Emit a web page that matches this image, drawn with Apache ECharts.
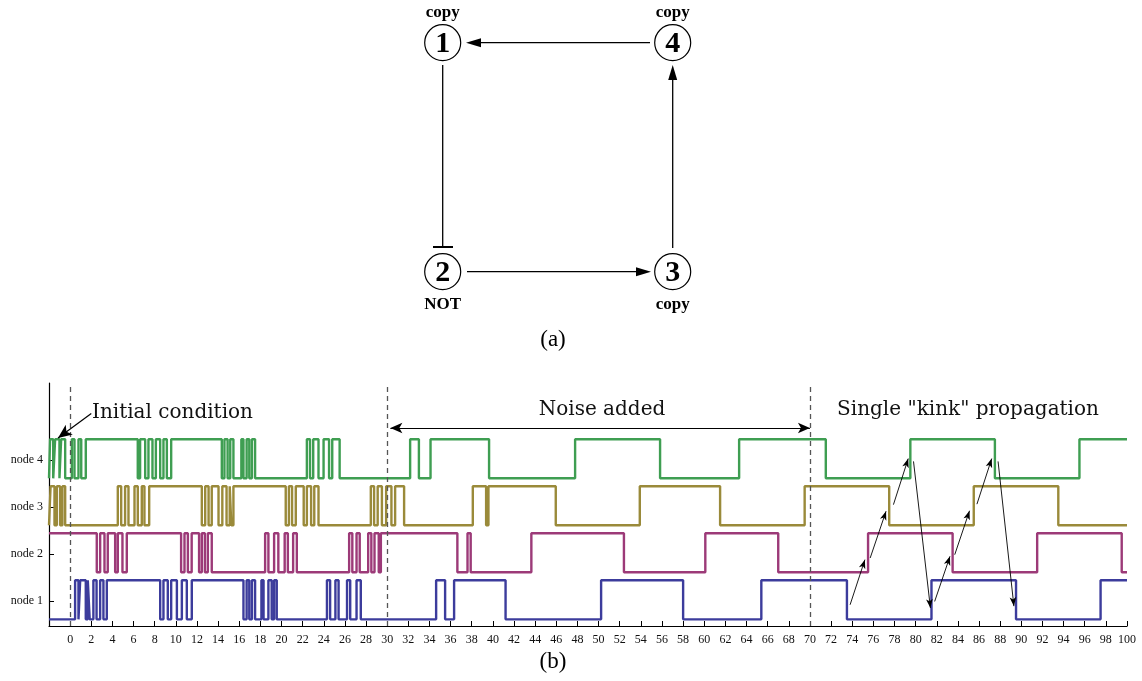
<!DOCTYPE html>
<html>
<head>
<meta charset="utf-8">
<script src="https://cdn.jsdelivr.net/npm/echarts@6/dist/echarts.min.js"></script>
<style>
html,body{margin:0;padding:0;background:#fff;}
#chart{width:1142px;height:681px;}
</style>
</head>
<body>
<div id="chart"></div>
<script>
// ---------------- DATA ----------------
const nodeNames = ['node 1', 'node 2', 'node 3', 'node 4'];
const nodeTickValues = [1, 2, 3, 4];
const xMin = -2, xMax = 100, xStep = 2;
const dashedMarkers = [0, 30, 70];

// initial state (0 = low, 1 = high) and switching times for each node
const node1Start = 0;
const node1Switches = [0.47, 0.79, 0.95, 1.48, 1.67, 1.85, 2.2, 2.5, 2.84, 3.15, 3.47,
  8.52, 8.83, 9.24, 9.56, 10.1, 10.57, 11.04, 11.51,
  16.4, 16.7, 16.95, 17.2, 17.5, 18.1, 18.3, 18.76, 19.07, 19.3, 19.55,
  24.3, 24.6, 25.1, 25.4, 26.2, 26.5, 27.1, 27.5,
  34.63, 35.48, 36.33, 41.2, 50.24, 58.0, 65.4, 73.5, 81.5, 89.5, 97.5];

const node2Start = 1;
const node2Switches = [2.52, 2.84, 3.25, 3.56, 4.26, 4.51, 4.95, 5.36,
  10.5, 10.82, 11.14, 11.5, 12.2, 12.46, 12.75, 13.03, 13.4,
  18.45, 18.76, 19.3, 19.7, 20.3, 20.6, 21.1, 21.45,
  26.4, 26.7, 27.1, 27.4, 28.2, 28.5, 28.8, 29.2, 29.4,
  36.64, 37.6, 37.9, 43.64, 52.4, 60.1, 67.0, 75.5, 83.5, 91.5, 99.5];

const node3Start = 0;
const node3Switches = [-1.85, -1.48, -1.26, -0.95, -0.73, -0.47,
  4.51, 4.83, 5.2, 5.52, 6.09, 6.4, 6.78, 7.03, 7.48,
  12.46, 12.78, 13.1, 13.4, 14.04, 14.4, 14.8, 15.1, 15.25, 15.45,
  20.4, 20.7, 21.0, 21.35, 22.1, 22.4, 22.8, 23.1, 23.5,
  28.45, 28.76, 29.1, 29.5, 29.9, 30.4, 30.75, 31.6,
  38.1, 39.36, 39.58, 45.95, 53.9, 61.5, 69.5, 77.5, 85.5, 93.5];

const node4Start = 0;
const node4Switches = [-1.9, -1.6, -1.42, -1.01, -0.85, -0.47, 0.16, 0.41, 0.79, 1.05, 1.48,
  6.4, 6.62, 7.1, 7.41, 7.79, 8.11, 8.52, 8.83, 9.15, 9.56,
  14.35, 14.6, 14.9, 15.15, 15.45, 16.2, 16.4, 16.7, 16.95, 17.2, 17.5,
  22.4, 22.7, 23.0, 23.5, 23.98, 24.5, 24.8, 25.5,
  32.17, 33.0, 34.1, 39.64, 47.78, 55.82, 63.3, 71.5, 79.5, 87.5, 95.5];

// annotation arrows (data coordinates: [x, y] -> [x, y])
const kinkArrows = [
  [[73.8, 0.92], [75.2, 1.88]],
  [[75.7, 1.915], [77.2, 2.91]],
  [[77.9, 3.05], [79.3, 4.03]],
  [[79.8, 3.97], [81.4, 0.85]],
  [[81.8, 0.99], [83.25, 1.95]],
  [[83.7, 1.985], [85.1, 2.92]],
  [[85.8, 3.06], [87.2, 4.03]],
  [[87.8, 3.97], [89.3, 0.89]]
];
const noiseArrow = [[30.3, 4.68], [70.0, 4.68]];
const initArrow = [[2.0, 4.99], [-1.15, 4.47]];

// ---------------- BUILD ----------------
const HIGH_OFF = 0.44, LOW_OFF = -0.39;
function buildWave(level, start, switches) {
  const lv = s => level + (s ? HIGH_OFF : LOW_OFF);
  let cur = start;
  const pts = [[xMin, lv(cur)]];
  switches.forEach(t => {
    pts.push([t, lv(cur)]);
    cur = 1 - cur;
    pts.push([t, lv(cur)]);
  });
  pts.push([xMax, lv(cur)]);
  return pts;
}
const waves = [
  buildWave(1, node1Start, node1Switches),
  buildWave(2, node2Start, node2Switches),
  buildWave(3, node3Start, node3Switches),
  buildWave(4, node4Start, node4Switches)
];
const colors = ['#3c3c9c', '#9c3a78', '#9a8a3a', '#3f9e52'];

const serif = '"Liberation Serif", "DejaVu Serif", serif';
const wideSerif = '"DejaVu Serif", "Liberation Serif", serif';

const series = waves.map((d, i) => ({
  type: 'line',
  name: nodeNames[i],
  data: d,
  symbol: 'none',
  lineStyle: { color: colors[i], width: 2.4 },
  itemStyle: { color: colors[i] },
  animation: false,
  z: 3
}));

series.push({
  type: 'line',
  data: [],
  symbol: 'none',
  animation: false,
  markLine: {
    silent: true,
    symbol: ['none', 'none'],
    label: { show: false },
    lineStyle: { type: [5, 4], color: '#555', width: 1.3 },
    data: dashedMarkers.map(v => ({ xAxis: v }))
  }
});

const arrowData = kinkArrows.map(a => [
  { coord: a[0], symbol: 'none' },
  { coord: a[1], symbol: 'arrow', symbolSize: [5, 9] }
]);
series.push({
  type: 'line',
  data: [],
  symbol: 'none',
  animation: false,
  markLine: {
    silent: true,
    label: { show: false },
    lineStyle: { type: 'solid', color: '#000', width: 0.9 },
    data: arrowData
  },
  z: 5
});
series.push({
  type: 'line',
  data: [],
  symbol: 'none',
  animation: false,
  markLine: {
    silent: true,
    label: { show: false },
    lineStyle: { type: 'solid', color: '#000', width: 1.2 },
    data: [
      [{ coord: noiseArrow[0], symbol: 'arrow', symbolSize: [8, 12] },
       { coord: noiseArrow[1], symbol: 'arrow', symbolSize: [8, 12] }],
      [{ coord: initArrow[0], symbol: 'none' },
       { coord: initArrow[1], symbol: 'arrow', symbolSize: [9, 14] }]
    ]
  },
  z: 5
});

// ---------------- DIAGRAM (a) ----------------
const nodePos = { 1: [442.7, 42.7], 4: [672.7, 42.7], 2: [442.7, 271.7], 3: [672.7, 271.7] };
const nodeRoles = { 1: 'copy', 4: 'copy', 2: 'NOT', 3: 'copy' };
const graphic = [];
const lw = 1.3;
function line(x1, y1, x2, y2, w) {
  graphic.push({ type: 'line', shape: { x1, y1, x2, y2 }, style: { stroke: '#000', lineWidth: w || lw } });
}
function head(tx, ty, dx, dy) { // tip and unit direction
  const L = 15, W = 4.5;
  const bx = tx - dx * L, by = ty - dy * L;
  const px = -dy, py = dx;
  graphic.push({ type: 'polygon', shape: { points: [[tx, ty], [bx + px * W, by + py * W], [bx - px * W, by - py * W]] }, style: { fill: '#000' } });
}
line(650, 42.7, 480, 42.7); head(466, 42.7, -1, 0);
line(467, 271.7, 637, 271.7); head(651, 271.7, 1, 0);
line(672.7, 248, 672.7, 79); head(672.7, 65, 0, -1);
line(442.7, 65, 442.7, 247);
line(433, 247, 453, 247, 2);
Object.keys(nodePos).forEach(k => {
  const [cx, cy] = nodePos[k];
  graphic.push({ type: 'circle', shape: { cx, cy, r: 18 }, style: { fill: '#fff', stroke: '#000', lineWidth: 1.2 } });
  graphic.push({ type: 'text', x: cx, y: cy + 1.5, style: { text: k, fill: '#000', font: 'bold 30px ' + serif, align: 'center', verticalAlign: 'middle' } });
  const ly = cy < 150 ? 12.7 : 305;
  graphic.push({ type: 'text', x: cx, y: ly, style: { text: nodeRoles[k], fill: '#000', font: 'bold 17px ' + serif, align: 'center', verticalAlign: 'middle' } });
});
graphic.push({ type: 'text', x: 553, y: 340, style: { text: '(a)', fill: '#000', font: '23px ' + serif, align: 'center', verticalAlign: 'middle' } });
graphic.push({ type: 'text', x: 553, y: 662, style: { text: '(b)', fill: '#000', font: '23px ' + serif, align: 'center', verticalAlign: 'middle' } });
graphic.push({ type: 'text', x: 92, y: 413, style: { text: 'Initial condition', fill: '#111', font: '20px ' + wideSerif, align: 'left', verticalAlign: 'middle' } });
graphic.push({ type: 'text', x: 602, y: 410, style: { text: 'Noise added', fill: '#111', font: '20px ' + wideSerif, align: 'center', verticalAlign: 'middle' } });
graphic.push({ type: 'text', x: 968, y: 410, style: { text: 'Single "kink" propagation', fill: '#111', font: '20px ' + wideSerif, align: 'center', verticalAlign: 'middle' } });

// ---------------- OPTION ----------------
const option = {
  animation: false,
  backgroundColor: '#fff',
  grid: { left: 49, right: 15, top: 383, bottom: 55, containLabel: false },
  xAxis: {
    type: 'value', min: xMin, max: xMax, interval: xStep,
    axisLine: { show: true, onZero: false, lineStyle: { color: '#000', width: 1.2 } },
    axisTick: { show: true, inside: true, length: 5, lineStyle: { color: '#000' } },
    axisLabel: { formatter: v => (v < 0 ? '' : String(v)), fontFamily: serif, fontSize: 12, color: '#111', margin: 8 },
    splitLine: { show: false }
  },
  yAxis: {
    type: 'value', min: 0.468, max: 5.638,
    axisLine: { show: true, onZero: false, lineStyle: { color: '#000', width: 1.2 } },
    axisTick: { show: true, inside: true, length: 5, customValues: nodeTickValues, lineStyle: { color: '#000' } },
    axisLabel: { customValues: nodeTickValues, formatter: v => nodeNames[Math.round(v) - 1] || '', fontFamily: serif, fontSize: 12, color: '#111', margin: 6 },
    splitLine: { show: false }
  },
  graphic: graphic,
  series: series
};
const chart = echarts.init(document.getElementById('chart'), null, { renderer: 'canvas' });
chart.setOption(option);
</script>
</body>
</html>
